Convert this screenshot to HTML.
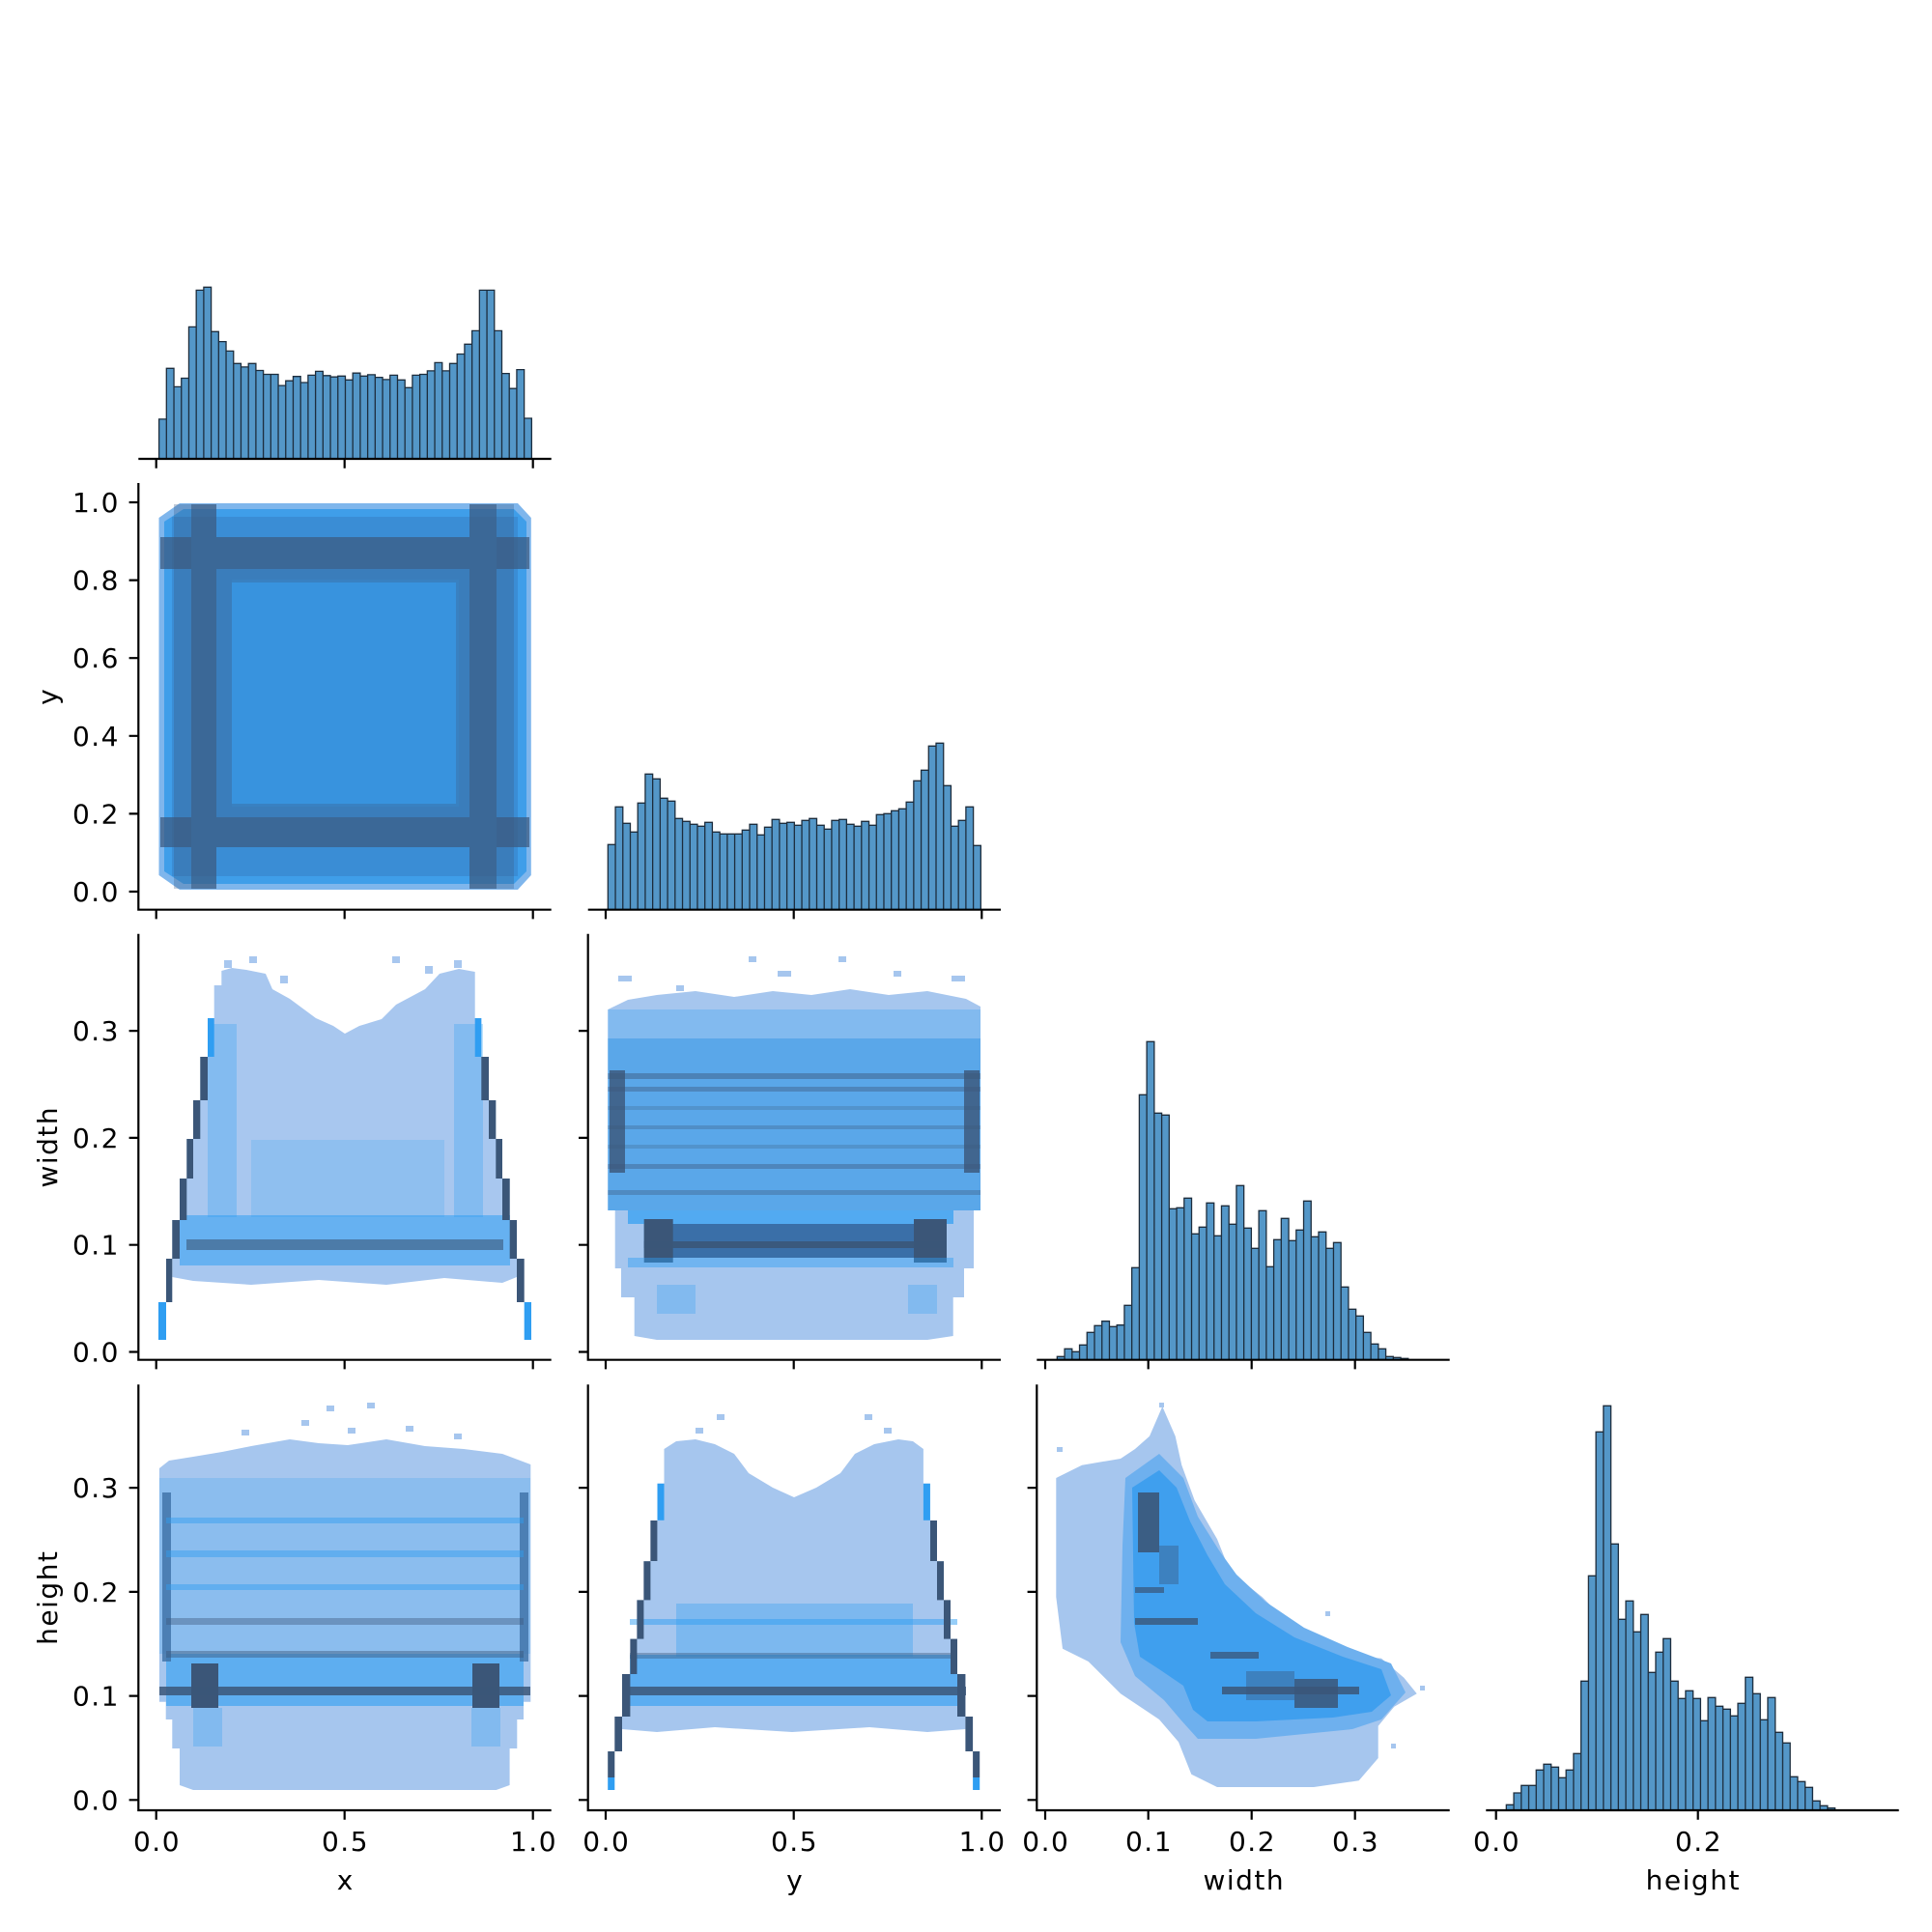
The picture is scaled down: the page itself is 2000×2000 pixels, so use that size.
<!DOCTYPE html>
<html><head><meta charset="utf-8"><style>
html,body{margin:0;padding:0;background:#fff;}
svg{display:block;}
text{font-family:"DejaVu Sans","Liberation Sans",sans-serif;font-size:28px;fill:#000;letter-spacing:1.5px;}
</style></head><body>
<svg width="2000" height="2000" viewBox="0 0 2000 2000" xmlns="http://www.w3.org/2000/svg">
<rect width="2000" height="2000" fill="#fff"/>

<!-- ===== Histograms (diagonal) ===== -->
<g fill="#5497c8" stroke="#1d2d3d" stroke-width="1.3">
<path d="M164.6,475V433.9h7.715V475Zm7.715,0V381.3h7.715V475Zm7.715,0V400.4h7.715V475Zm7.715,0V391.5h7.715V475Zm7.715,0V338.4h7.715V475Zm7.715,0V300.4h7.715V475Zm7.715,0V297.3h7.715V475Zm7.715,0V343.3h7.715V475Zm7.715,0V353.6h7.715V475Zm7.715,0V363.4h7.715V475Zm7.715,0V376.3h7.715V475Zm7.715,0V379.9h7.715V475Zm7.715,0V376.3h7.715V475Zm7.715,0V383.5h7.715V475Zm7.715,0V387.5h7.715V475Zm7.715,0V387.5h7.715V475Zm7.715,0V399.1h7.715V475Zm7.715,0V394.2h7.715V475Zm7.715,0V389.7h7.715V475Zm7.715,0V396h7.715V475Zm7.715,0V388.4h7.715V475Zm7.715,0V384.4h7.715V475Zm7.715,0V388.8h7.715V475Zm7.715,0V390.2h7.715V475Zm7.715,0V389.3h7.715V475Zm7.715,0V393.3h7.715V475Zm7.715,0V386.2h7.715V475Zm7.715,0V389.3h7.715V475Zm7.715,0V387.9h7.715V475Zm7.715,0V390.6h7.715V475Zm7.715,0V392.9h7.715V475Zm7.715,0V388.4h7.715V475Zm7.715,0V393.3h7.715V475Zm7.715,0V401.3h7.715V475Zm7.715,0V388.4h7.715V475Zm7.715,0V387.5h7.715V475Zm7.715,0V383.9h7.715V475Zm7.715,0V375.4h7.715V475Zm7.715,0V383.9h7.715V475Zm7.715,0V376.3h7.715V475Zm7.715,0V366.5h7.715V475Zm7.715,0V356.3h7.715V475Zm7.715,0V342.4h7.715V475Zm7.715,0V300.4h7.715V475Zm7.715,0V300.4h7.715V475Zm7.715,0V342.4h7.715V475Zm7.715,0V386.6h7.715V475Zm7.715,0V402.2h7.715V475Zm7.715,0V382.6h7.715V475Zm7.715,0V433h7.715V475Z"/>
<path d="M629.33,941.7V874.3h7.72V941.7Zm7.72,0V835.3h7.72V941.7Zm7.72,0V852.3h7.72V941.7Zm7.72,0V861.3h7.72V941.7Zm7.72,0V831.3h7.72V941.7Zm7.72,0V801.3h7.72V941.7Zm7.72,0V806.3h7.72V941.7Zm7.72,0V826.3h7.72V941.7Zm7.72,0V829.3h7.72V941.7Zm7.72,0V847.3h7.72V941.7Zm7.72,0V850.3h7.72V941.7Zm7.72,0V853.3h7.72V941.7Zm7.72,0V855.3h7.72V941.7Zm7.72,0V851.3h7.72V941.7Zm7.72,0V861.3h7.72V941.7Zm7.72,0V863.3h7.72V941.7Zm7.72,0V863.3h7.72V941.7Zm7.72,0V863.3h7.72V941.7Zm7.72,0V859.3h7.72V941.7Zm7.72,0V853.3h7.72V941.7Zm7.72,0V864.3h7.72V941.7Zm7.72,0V856.3h7.72V941.7Zm7.72,0V848.3h7.72V941.7Zm7.72,0V852.3h7.72V941.7Zm7.72,0V851.3h7.72V941.7Zm7.72,0V854.3h7.72V941.7Zm7.72,0V849.3h7.72V941.7Zm7.72,0V847.3h7.72V941.7Zm7.72,0V854.3h7.72V941.7Zm7.72,0V858.3h7.72V941.7Zm7.72,0V849.3h7.72V941.7Zm7.72,0V848.3h7.72V941.7Zm7.72,0V853.3h7.72V941.7Zm7.72,0V855.3h7.72V941.7Zm7.72,0V850.3h7.72V941.7Zm7.72,0V854.3h7.72V941.7Zm7.72,0V843.3h7.72V941.7Zm7.72,0V842.3h7.72V941.7Zm7.72,0V839.3h7.72V941.7Zm7.72,0V837.3h7.72V941.7Zm7.72,0V830.3h7.72V941.7Zm7.72,0V808.3h7.72V941.7Zm7.72,0V797.3h7.72V941.7Zm7.72,0V772.3h7.72V941.7Zm7.72,0V769.3h7.72V941.7Zm7.72,0V813.3h7.72V941.7Zm7.72,0V855.3h7.72V941.7Zm7.72,0V849.3h7.72V941.7Zm7.72,0V835.3h7.72V941.7Zm7.72,0V875.3h7.72V941.7Z"/>
<path d="M1094.33,1407.7V1404.3h7.733V1407.7Zm7.733,0V1396.3h7.733V1407.7Zm7.733,0V1399.3h7.733V1407.7Zm7.733,0V1392.3h7.733V1407.7Zm7.733,0V1379.3h7.733V1407.7Zm7.733,0V1372.3h7.733V1407.7Zm7.733,0V1367.7h7.733V1407.7Zm7.733,0V1373.3h7.733V1407.7Zm7.733,0V1371.7h7.733V1407.7Zm7.733,0V1351.3h7.733V1407.7Zm7.733,0V1312.3h7.733V1407.7Zm7.733,0V1133.3h7.733V1407.7Zm7.733,0V1078.3h7.733V1407.7Zm7.733,0V1152.3h7.733V1407.7Zm7.733,0V1154.3h7.733V1407.7Zm7.733,0V1251.3h7.733V1407.7Zm7.733,0V1250.3h7.733V1407.7Zm7.733,0V1240.3h7.733V1407.7Zm7.733,0V1277.3h7.733V1407.7Zm7.733,0V1270.3h7.733V1407.7Zm7.733,0V1245.3h7.733V1407.7Zm7.733,0V1279.3h7.733V1407.7Zm7.733,0V1248.3h7.733V1407.7Zm7.733,0V1267.3h7.733V1407.7Zm7.733,0V1227.3h7.733V1407.7Zm7.733,0V1271.3h7.733V1407.7Zm7.733,0V1292.3h7.733V1407.7Zm7.733,0V1253.3h7.733V1407.7Zm7.733,0V1311.3h7.733V1407.7Zm7.733,0V1283.3h7.733V1407.7Zm7.733,0V1261.3h7.733V1407.7Zm7.733,0V1284.3h7.733V1407.7Zm7.733,0V1273.3h7.733V1407.7Zm7.733,0V1243.3h7.733V1407.7Zm7.733,0V1280.3h7.733V1407.7Zm7.733,0V1275.3h7.733V1407.7Zm7.733,0V1292.3h7.733V1407.7Zm7.733,0V1286.3h7.733V1407.7Zm7.733,0V1332.3h7.733V1407.7Zm7.733,0V1355.3h7.733V1407.7Zm7.733,0V1362.3h7.733V1407.7Zm7.733,0V1379.3h7.733V1407.7Zm7.733,0V1391.3h7.733V1407.7Zm7.733,0V1396.3h7.733V1407.7Zm7.733,0V1404.3h7.733V1407.7Zm7.733,0V1405.3h7.733V1407.7Zm7.733,0V1406.3h7.733V1407.7Z"/>
<path d="M1559.33,1873.7V1868.3h7.733V1873.7Zm7.733,0V1856h7.733V1873.7Zm7.733,0V1848.3h7.733V1873.7Zm7.733,0V1848.3h7.733V1873.7Zm7.733,0V1832.3h7.733V1873.7Zm7.733,0V1826.3h7.733V1873.7Zm7.733,0V1829.3h7.733V1873.7Zm7.733,0V1840.3h7.733V1873.7Zm7.733,0V1832.3h7.733V1873.7Zm7.733,0V1815.3h7.733V1873.7Zm7.733,0V1740.3h7.733V1873.7Zm7.733,0V1631.3h7.733V1873.7Zm7.733,0V1482.3h7.733V1873.7Zm7.733,0V1455.3h7.733V1873.7Zm7.733,0V1598.3h7.733V1873.7Zm7.733,0V1676.3h7.733V1873.7Zm7.733,0V1657.3h7.733V1873.7Zm7.733,0V1689.3h7.733V1873.7Zm7.733,0V1671.3h7.733V1873.7Zm7.733,0V1731.3h7.733V1873.7Zm7.733,0V1710.3h7.733V1873.7Zm7.733,0V1696.3h7.733V1873.7Zm7.733,0V1740.3h7.733V1873.7Zm7.733,0V1758.3h7.733V1873.7Zm7.733,0V1750.3h7.733V1873.7Zm7.733,0V1758.3h7.733V1873.7Zm7.733,0V1781.3h7.733V1873.7Zm7.733,0V1757.3h7.733V1873.7Zm7.733,0V1766.3h7.733V1873.7Zm7.733,0V1769.3h7.733V1873.7Zm7.733,0V1776.3h7.733V1873.7Zm7.733,0V1763.3h7.733V1873.7Zm7.733,0V1736.3h7.733V1873.7Zm7.733,0V1753.3h7.733V1873.7Zm7.733,0V1780.3h7.733V1873.7Zm7.733,0V1757.3h7.733V1873.7Zm7.733,0V1793.3h7.733V1873.7Zm7.733,0V1804.3h7.733V1873.7Zm7.733,0V1839.3h7.733V1873.7Zm7.733,0V1844.3h7.733V1873.7Zm7.733,0V1850.3h7.733V1873.7Zm7.733,0V1864.3h7.733V1873.7Zm7.733,0V1869.3h7.733V1873.7Zm7.733,0V1871.7h7.733V1873.7Z"/>
</g>

<!-- ===== Panel A: x vs y ===== -->
<g>
<path d="M186,521 H536 L549.8,536 V906 L536,921 H186 L164.5,906 V536 Z" fill="#7fb6ec"/>
<path d="M190,527 H532 L545,540 V902 L532,915 H190 L170,902 V540 Z" fill="#3f9ee9"/>
<rect x="178" y="535" width="358" height="372" fill="#3a8dd5"/>
<rect x="240" y="600" width="235" height="235" fill="#3699e6" opacity=".55"/>
<g fill="#3c5a80" opacity=".72">
<rect x="198" y="522" width="26" height="398"/>
<rect x="486" y="522" width="28" height="398"/>
<rect x="166" y="556" width="382" height="33"/>
<rect x="166" y="846" width="382" height="31"/>
</g>
<g fill="#3c5a80" opacity=".3">
<rect x="224" y="589" width="16" height="257"/>
<rect x="472" y="589" width="14" height="257"/>
<rect x="224" y="589" width="262" height="14"/>
<rect x="224" y="832" width="262" height="14"/>
<rect x="180" y="522" width="18" height="398"/>
<rect x="514" y="522" width="18" height="398"/>
</g>
</g>

<!-- ===== Panel B: x vs width ===== -->
<g>
<path d="M178.3,1322 V1263 H186 V1220 H193.3 V1179 H200 V1139 H207.3 V1094 H215 V1054 H221.7 V1020 H229.3 V1005 L240,1002 L255,1004 L275,1008 L282,1024 L300,1034 L327,1054 L345,1062 L357,1070 L372,1062 L395,1055 L410,1040 L440,1024 L455,1008 L475,1003 L491.7,1006 V1054 H498.3 V1094 H506 V1139 H513.3 V1179 H520 V1220 H527.7 V1263 H535 V1322 L520,1328 L460,1323 L400,1330 L330,1325 L260,1330 L200,1326 Z" fill="#a8c7ef"/>
<g fill="#a8c7ef"><rect x="232" y="994" width="8" height="8"/><rect x="258" y="990" width="8" height="7"/><rect x="290" y="1010" width="8" height="8"/><rect x="406" y="990" width="8" height="7"/><rect x="440" y="1000" width="8" height="8"/><rect x="470" y="994" width="8" height="8"/></g>
<rect x="215" y="1060" width="30" height="200" fill="#2f9ef2" opacity=".3"/>
<rect x="470" y="1060" width="30" height="200" fill="#2f9ef2" opacity=".3"/>
<rect x="260" y="1180" width="200" height="80" fill="#2f9ef2" opacity=".2"/>
<rect x="186" y="1258" width="342" height="52" fill="#2f9ef2" opacity=".55"/>
<rect x="193" y="1283" width="328" height="11" fill="#3b5678" opacity=".6"/>
<g fill="#3b5678">
<rect x="172" y="1303" width="6.3" height="45"/>
<rect x="178.3" y="1263" width="7.7" height="40"/>
<rect x="186" y="1220" width="7.3" height="43"/>
<rect x="193.3" y="1179" width="6.7" height="41"/>
<rect x="200" y="1139" width="7.3" height="40"/>
<rect x="207.3" y="1094" width="7.7" height="45"/>
<rect x="535" y="1303" width="7.7" height="45"/>
<rect x="527.7" y="1263" width="7.3" height="40"/>
<rect x="520" y="1220" width="7.7" height="43"/>
<rect x="513.3" y="1179" width="6.7" height="41"/>
<rect x="506" y="1139" width="7.3" height="40"/>
<rect x="498.3" y="1094" width="7.7" height="45"/>
</g>
<g fill="#2f9ef2">
<rect x="164" y="1348" width="8" height="39"/>
<rect x="542.7" y="1348" width="7.3" height="39"/>
<rect x="215" y="1054" width="6.7" height="40"/>
<rect x="491.7" y="1054" width="6.6" height="40"/>
</g>
</g>

<!-- ===== Panel C: x vs height ===== -->
<g>
<path d="M164.9,1520 L175,1512 L200,1508 L230,1503 L260,1497 L300,1490 L330,1494 L360,1496 L400,1490 L440,1497 L480,1500 L520,1505 L549.3,1516 V1761.7 H542 V1780 H535.3 V1810 H527.6 V1848 L513.6,1853 H200 L186,1848 V1810 H178.3 V1780 H171.7 V1761.7 H164.9 Z" fill="#a6c6ee"/>
<g fill="#a6c6ee"><rect x="250" y="1480" width="8" height="6"/><rect x="312" y="1470" width="8" height="6"/><rect x="338" y="1455" width="8" height="6"/><rect x="380" y="1452" width="8" height="6"/><rect x="360" y="1478" width="8" height="6"/><rect x="420" y="1476" width="8" height="6"/><rect x="470" y="1484" width="8" height="6"/></g>
<rect x="165" y="1530" width="384" height="182" fill="#2f9ef2" opacity=".22"/>
<rect x="172" y="1712" width="370" height="54" fill="#2f9ef2" opacity=".6"/>
<rect x="168" y="1545" width="9" height="175" fill="#3c6fa5" opacity=".8"/>
<rect x="538" y="1545" width="9" height="175" fill="#3c6fa5" opacity=".8"/>
<g fill="#2f9ef2" opacity=".45">
<rect x="172" y="1640" width="370" height="6"/>
<rect x="172" y="1605" width="370" height="7"/>
<rect x="172" y="1571" width="370" height="6"/>
</g>
<g fill="#3b5678">
<rect x="172" y="1709" width="370" height="7" opacity=".45"/>
<rect x="172" y="1675" width="370" height="7" opacity=".4"/>
<rect x="198" y="1722" width="28" height="46"/>
<rect x="489" y="1722" width="28" height="46"/>
<rect x="165" y="1746" width="384" height="9" opacity=".85"/>
</g>
<rect x="200" y="1768" width="30" height="40" fill="#2f9ef2" opacity=".3"/>
<rect x="488" y="1768" width="30" height="40" fill="#2f9ef2" opacity=".3"/>
</g>

<!-- ===== Panel D: y vs width ===== -->
<g>
<path d="M629.3,1045 L650,1035 L680,1030 L720,1026 L760,1032 L800,1026 L840,1030 L880,1024 L920,1030 L960,1026 L1000,1034 L1015,1042 V1253 H1008 V1313 H998 V1343 H986.7 V1383 L960,1387 H680 L656.7,1383 V1343 H643 V1313 H636.7 V1253 H629.3 Z" fill="#a6c6ee"/>
<g fill="#a6c6ee"><rect x="640" y="1010" width="14" height="6"/><rect x="700" y="1020" width="8" height="6"/><rect x="775" y="990" width="8" height="6"/><rect x="805" y="1005" width="14" height="6"/><rect x="868" y="990" width="8" height="6"/><rect x="925" y="1005" width="8" height="6"/><rect x="985" y="1010" width="14" height="6"/></g>
<rect x="629.3" y="1045" width="385.7" height="30" fill="#2f9ef2" opacity=".3"/>
<rect x="629.3" y="1075" width="385.7" height="178" fill="#3d9be8" opacity=".72"/>
<g fill="#3b5678">
<rect x="631" y="1108" width="16" height="106" opacity=".8"/>
<rect x="998" y="1108" width="16" height="106" opacity=".8"/>
<rect x="629.3" y="1111" width="385.7" height="6" opacity=".45"/>
<rect x="629.3" y="1125" width="385.7" height="5" opacity=".4"/>
<rect x="629.3" y="1145" width="385.7" height="4" opacity=".25"/>
<rect x="629.3" y="1165" width="385.7" height="4" opacity=".3"/>
<rect x="629.3" y="1185" width="385.7" height="4" opacity=".25"/>
<rect x="629.3" y="1205" width="385.7" height="5" opacity=".4"/>
<rect x="629.3" y="1232" width="385.7" height="5" opacity=".35"/>
</g>
<rect x="650" y="1253" width="337" height="14" fill="#2f9ef2" opacity=".7"/>
<rect x="666.7" y="1267" width="313.3" height="35" fill="#3a6fa8"/>
<rect x="666.7" y="1262" width="30" height="45" fill="#3b5678"/>
<rect x="946" y="1262" width="34" height="45" fill="#3b5678"/>
<rect x="666.7" y="1285" width="313.3" height="7" fill="#3b5678" opacity=".9"/>
<rect x="650" y="1302" width="337" height="10" fill="#2f9ef2" opacity=".45"/>
<rect x="680" y="1330" width="40" height="30" fill="#2f9ef2" opacity=".3"/>
<rect x="940" y="1330" width="30" height="30" fill="#2f9ef2" opacity=".3"/>
</g>

<!-- ===== Panel E: y vs height ===== -->
<g>
<path d="M644,1790 V1733 H652.4 V1696.6 H659.4 V1656.4 H666.4 V1616.2 H673.4 V1574 H680.5 V1535.8 H687.5 V1500 L700,1492 L720,1490 L740,1495 L760,1505 L775,1525 L800,1540 L822,1550 L845,1540 L870,1525 L885,1505 L905,1495 L930,1490 L945,1492 L955.9,1500 V1535.8 H962.9 V1574 H970 V1616.2 H977 V1656.4 H984 V1696.6 H991 V1733 H999.4 V1790 L960,1793 L900,1788 L820,1793 L740,1788 L680,1793 Z" fill="#a6c6ee"/>
<g fill="#a6c6ee"><rect x="720" y="1478" width="8" height="6"/><rect x="742" y="1464" width="8" height="6"/><rect x="895" y="1464" width="8" height="6"/><rect x="915" y="1478" width="8" height="6"/></g>
<rect x="700" y="1660" width="245" height="55" fill="#2f9ef2" opacity=".35"/>
<rect x="652" y="1713" width="339" height="53" fill="#2f9ef2" opacity=".62"/>
<rect x="652" y="1676" width="339" height="6" fill="#2f9ef2" opacity=".5"/>
<rect x="652" y="1711" width="339" height="6" fill="#3b5678" opacity=".4"/>
<rect x="644" y="1746" width="356" height="9" fill="#3b5678" opacity=".85"/>
<g fill="#3b5678">
<rect x="636.3" y="1777" width="7.7" height="36"/>
<rect x="629.2" y="1813" width="7.1" height="27"/>
<rect x="644" y="1733" width="8.4" height="44"/>
<rect x="652.4" y="1696.6" width="7" height="36.4"/>
<rect x="659.4" y="1656.4" width="7" height="40.2"/>
<rect x="666.4" y="1616.2" width="7" height="40.2"/>
<rect x="673.4" y="1574" width="7" height="42"/>
<rect x="999.4" y="1777" width="7.7" height="36"/>
<rect x="1007.1" y="1813" width="7.1" height="27"/>
<rect x="991" y="1733" width="8.4" height="44"/>
<rect x="984" y="1696.6" width="7" height="36.4"/>
<rect x="977" y="1656.4" width="7" height="40.2"/>
<rect x="970" y="1616.2" width="7" height="40.2"/>
<rect x="963" y="1574" width="7" height="42"/>
</g>
<g fill="#2f9ef2">
<rect x="629.2" y="1840" width="7.1" height="13"/>
<rect x="1007.1" y="1840" width="7.1" height="13"/>
<rect x="680.5" y="1535.8" width="7" height="38"/>
<rect x="955.9" y="1535.8" width="7" height="38"/>
</g>
</g>

<!-- ===== Panel F: width vs height ===== -->
<g>
<path d="M1093.3,1530 L1120,1516.7 L1160,1510 L1175,1500 L1190,1486.7 L1203.3,1456 L1216.7,1486.7 L1223.3,1516.7 L1236.7,1553.3 L1260,1593.3 L1273.3,1626.7 L1306.7,1653.3 L1333.3,1680 L1360,1696.7 L1393.3,1713.3 L1430,1716.7 L1453.3,1736.7 L1466.7,1753.3 L1443.3,1766.7 L1426.7,1786.7 L1426.7,1820 L1406.7,1843.3 L1360,1850 L1260,1850 L1233.3,1836.7 L1220,1803.3 L1200,1780 L1160,1753.3 L1126.7,1720 L1100,1706.7 L1093.3,1653.3 Z" fill="#a6c6ee"/>
<g fill="#a6c6ee"><rect x="1094" y="1498" width="6" height="5"/><rect x="1200" y="1452" width="5" height="5"/><rect x="1198" y="1468" width="5" height="5"/><rect x="1470" y="1745" width="5" height="5"/><rect x="1372" y="1668" width="5" height="5"/><rect x="1440" y="1805" width="5" height="5"/></g>
<path d="M1165,1530 L1200,1505 L1225,1530 L1240,1570 L1262,1605 L1280,1630 L1310,1658 L1350,1685 L1395,1705 L1440,1722 L1455,1752 L1430,1780 L1400,1790 L1300,1800 L1240,1800 L1222,1780 L1205,1760 L1175,1735 L1160,1700 L1162,1600 Z" fill="#6eb0ee"/>
<path d="M1172,1540 L1200,1522 L1218,1540 L1232,1575 L1250,1610 L1268,1640 L1300,1670 L1340,1695 L1390,1715 L1430,1728 L1440,1755 L1420,1772 L1380,1778 L1300,1782 L1250,1782 L1235,1770 L1225,1745 L1200,1728 L1180,1715 L1174,1680 Z" fill="#3a9ded" opacity=".9"/>
<g fill="#3b5678">
<rect x="1178" y="1545" width="22" height="62" opacity=".9"/>
<rect x="1200" y="1600" width="20" height="40" opacity=".4"/>
<rect x="1175" y="1643" width="30" height="6" opacity=".7"/>
<rect x="1175" y="1675" width="65" height="7" opacity=".8"/>
<rect x="1253" y="1710" width="50" height="7" opacity=".75"/>
<rect x="1290" y="1730" width="50" height="30" opacity=".4"/>
<rect x="1265" y="1746" width="142" height="8" opacity=".85"/>
<rect x="1340" y="1738" width="45" height="30" opacity=".85"/>
</g>
</g>

<!-- ===== Spines & ticks ===== -->
<g stroke="#000" stroke-width="2.2" fill="none">
<path d="M143.3,475H570.7"/>
<path d="M143.3,500V941.7H570.7"/>
<path d="M608.7,941.7H1036"/>
<path d="M143.3,966.7V1407.7H570.7"/>
<path d="M608.7,966.7V1407.7H1036"/>
<path d="M1073.3,1407.7H1500.7"/>
<path d="M143.3,1433.3V1874H570.7"/>
<path d="M608.7,1433.3V1874H1036"/>
<path d="M1073.3,1433.3V1874H1500.7"/>
<path d="M1538.3,1874H1965.7"/>
<path d="M161.7,475v9.7M356.7,475v9.7M551.7,475v9.7"/>
<path d="M161.7,941.7v9.7M356.7,941.7v9.7M551.7,941.7v9.7M627,941.7v9.7M821.7,941.7v9.7M1016.3,941.7v9.7"/>
<path d="M161.7,1407.7v9.7M356.7,1407.7v9.7M551.7,1407.7v9.7M627,1407.7v9.7M821.7,1407.7v9.7M1016.3,1407.7v9.7M1082,1407.7v9.7M1188.7,1407.7v9.7M1295.7,1407.7v9.7M1402.7,1407.7v9.7"/>
<path d="M161.7,1874v9.7M356.7,1874v9.7M551.7,1874v9.7M627,1874v9.7M821.7,1874v9.7M1016.3,1874v9.7M1082,1874v9.7M1188.7,1874v9.7M1295.7,1874v9.7M1402.7,1874v9.7M1548.7,1874v9.7M1757.7,1874v9.7"/>
<path d="M143.3,923h-9.7M143.3,842.4h-9.7M143.3,761.8h-9.7M143.3,681.2h-9.7M143.3,600.6h-9.7M143.3,520h-9.7"/>
<path d="M143.3,1399.5h-9.7M143.3,1288.7h-9.7M143.3,1177.9h-9.7M143.3,1067.1h-9.7M608.7,1399.5h-9.7M608.7,1288.7h-9.7M608.7,1177.9h-9.7M608.7,1067.1h-9.7"/>
<path d="M143.3,1863.3h-9.7M143.3,1755.6h-9.7M143.3,1647.9h-9.7M143.3,1540.2h-9.7M608.7,1863.3h-9.7M608.7,1755.6h-9.7M608.7,1647.9h-9.7M608.7,1540.2h-9.7M1073.3,1863.3h-9.7M1073.3,1755.6h-9.7M1073.3,1647.9h-9.7M1073.3,1540.2h-9.7"/>
</g>

<!-- ===== Tick labels ===== -->
<g text-anchor="end">
<text x="124" y="933">0.0</text>
<text x="124" y="852.4">0.2</text>
<text x="124" y="771.8">0.4</text>
<text x="124" y="691.2">0.6</text>
<text x="124" y="610.6">0.8</text>
<text x="124" y="530">1.0</text>
<text x="124" y="1409.5">0.0</text>
<text x="124" y="1298.7">0.1</text>
<text x="124" y="1187.9">0.2</text>
<text x="124" y="1077.1">0.3</text>
<text x="124" y="1873.3">0.0</text>
<text x="124" y="1765.6">0.1</text>
<text x="124" y="1657.9">0.2</text>
<text x="124" y="1550.2">0.3</text>
</g>
<g text-anchor="middle">
<text x="162.5" y="1916">0.0</text>
<text x="357.5" y="1916">0.5</text>
<text x="552.5" y="1916">1.0</text>
<text x="627.8" y="1916">0.0</text>
<text x="822.5" y="1916">0.5</text>
<text x="1017.1" y="1916">1.0</text>
<text x="1082.8" y="1916">0.0</text>
<text x="1189.5" y="1916">0.1</text>
<text x="1296.5" y="1916">0.2</text>
<text x="1403.5" y="1916">0.3</text>
<text x="1549.5" y="1916">0.0</text>
<text x="1758.5" y="1916">0.2</text>
<text x="357.8" y="1956">x</text>
<text x="823.2" y="1956">y</text>
<text x="1287.8" y="1956">width</text>
<text x="1752.8" y="1956">height</text>
<text transform="translate(59,720.8) rotate(-90)">y</text>
<text transform="translate(59,1187.2) rotate(-90)">width</text>
<text transform="translate(59,1653.7) rotate(-90)">height</text>
</g>
</svg>
</body></html>
